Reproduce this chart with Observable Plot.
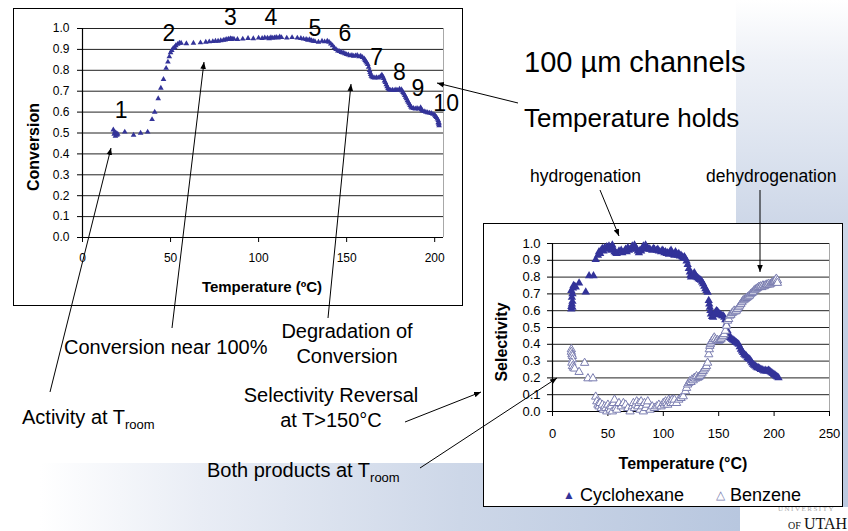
<!DOCTYPE html>
<html>
<head>
<meta charset="utf-8">
<script src="https://cdn.jsdelivr.net/npm/d3@7"></script>
<script src="https://cdn.jsdelivr.net/npm/@observablehq/plot@0.6"></script>
<style>
  html, body { margin: 0; padding: 0; background: #fff; }
  #slide { position: relative; width: 848px; height: 531px; overflow: hidden;
           font-family: Arial, "Liberation Sans", sans-serif; background: #fff; }
  .abs { position: absolute; }
  .box { position: absolute; background: #fff; border: 1.5px solid #000; box-sizing: border-box; }
  .chart { position: absolute; }
  .chart svg { overflow: visible; }
  #overlay { position: absolute; left: 0; top: 0; }
  .legend { position: absolute; font-size: 18px; line-height: 20px; white-space: nowrap; color: #000; }
</style>
</head>
<body>
<div id="slide">
  <div class="abs" style="left:736px;top:0;width:112px;height:507px;background:linear-gradient(to bottom,#ffffff 0px,#eef1f7 60px,#dce3ef 150px,#ccd6e7 230px,#c2cee2 350px,#bcc9df 507px);"></div>
  <div class="abs" style="left:0;top:463px;width:740px;height:68px;background:linear-gradient(to right,#ffffff 40px,#e9edf5 200px,#cdd7e8 460px,#b8c7df 740px);"></div>
  <div class="abs" style="left:778px;top:506px;font-family:'Liberation Serif',serif;font-size:7px;line-height:7px;color:#aaa;letter-spacing:1.5px;white-space:nowrap;">UNIVERSITY</div>
  <div class="abs" style="left:788px;top:517px;font-family:'Liberation Serif',serif;font-size:16px;line-height:14px;color:#111;white-space:nowrap;"><span style="font-size:10px">OF</span>&#8201;UTAH</div>

  <div class="box" style="left:13px;top:8px;width:450px;height:298px;"></div>
  <div id="c1" class="chart" style="left:13px;top:8px;"></div>

  <div class="box" style="left:483px;top:223px;width:360px;height:284px;"></div>
  <div id="c2" class="chart" style="left:483px;top:223px;"></div>

  <div class="legend" style="left:563px;top:485px;"><span style="color:#333399;font-size:12px;vertical-align:2px;">▲</span> Cyclohexane</div>
  <div class="legend" style="left:716px;top:485px;"><span style="color:#7a7db0;font-size:12px;vertical-align:2px;">△</span> Benzene</div>

  <svg id="overlay" width="848" height="531"></svg>
</div>
<script>
// ---------------- DATA ----------------
// Conversion vs temperature (°C), 100 µm channels
const conversion = [
  [17.5,0.515],[18,0.495],[18.3,0.505],[18.7,0.485],[19,0.5],[19.5,0.49],[20,0.495],
  [24,0.505],[29,0.49],[33,0.5],[37,0.505],
  [39.5,0.565],[41,0.6],[43,0.665],[44.5,0.715],[46,0.757],[47.5,0.81],
  [48.5,0.84],[49.3,0.865],[50,0.885],[50.7,0.895],[51.5,0.905],[52.3,0.91],[53,0.918],[54,0.925],[55,0.93],[56,0.93],
  [59,0.928],[63,0.93],[67,0.932],[70,0.935],[72,0.937],[74,0.938],[75.5,0.94],[77,0.94],[78.5,0.942],[80,0.944],
  [81,0.946],[82,0.948],[83,0.95],[84,0.952],[84.5,0.948],[85,0.95],[86,0.95],[88,0.948],[91,0.95],[94,0.953],
  [97,0.952],[100,0.955],[102,0.953],[103.5,0.956],[105,0.955],[106,0.952],[107,0.957],[108,0.954],[109,0.956],
  [110,0.958],[111,0.955],[112,0.96],[113,0.957],[116,0.955],[119,0.957],[122,0.955],[124,0.953],[125.5,0.95],
  [127,0.948],[128,0.945],[129,0.947],[130,0.942],[131,0.94],[132,0.938],[134,0.935],[136,0.94],[137.5,0.937],
  [139,0.94],[140,0.935],[141,0.927],[142,0.918],[143,0.908],[144,0.9],[145,0.893],[146,0.89],[147,0.886],
  [148,0.884],[149,0.88],[150,0.876],[151,0.874],[152,0.87],[153,0.872],[154,0.868],[155,0.87],[156,0.872],
  [157,0.866],[158,0.868],[159,0.862],[160,0.855],[160.5,0.848],[161,0.842],[161.5,0.835],[162,0.828],[162.5,0.815],
  [163,0.8],[163.3,0.79],[163.6,0.78],[164,0.772],[164.5,0.768],[165,0.765],[166,0.764],[167,0.766],[168,0.764],
  [169,0.768],[169.5,0.772],[170,0.778],[170.5,0.77],[171,0.762],[171.5,0.75],[172,0.742],[172.5,0.732],[173,0.722],
  [173.5,0.714],[174,0.708],[175,0.705],[176,0.706],[177,0.704],[178,0.707],[179,0.705],[180,0.71],[181,0.708],
  [181.5,0.702],[182,0.695],[182.5,0.688],[183,0.68],[183.5,0.672],[184,0.665],[184.5,0.655],[185,0.648],[185.5,0.64],
  [186,0.632],[186.5,0.625],[187,0.62],[188,0.618],[189,0.616],[190,0.618],[191,0.615],[192,0.622],[192.5,0.612],
  [193,0.606],[194,0.603],[195,0.6],[196,0.598],[197,0.596],[198,0.594],[199,0.59],[200,0.586],[200.5,0.58],
  [201,0.575],[201.5,0.568],[202,0.56],[202,0.55],[202.3,0.542],[202.5,0.535],[202.5,0.548]
];
// Temperature-hold labels placed on the conversion chart
const holdLabels = ["1","2","3","4","5","6","7","8","9","10"];
const holdTemps  = [22, 49, 84, 107, 132, 149, 167, 180, 190.5, 206.5];
const holdLevels = [0.605, 0.975, 1.05, 1.05, 1.0, 0.975, 0.86, 0.79, 0.71, 0.64];

// Selectivity vs temperature (°C)
const cyclohexane = [
  [17,0.61],[17,0.625],[17.5,0.64],[18,0.655],[17.5,0.68],[18,0.7],[17,0.72],[18.5,0.735],[19,0.75],[20,0.745],[21,0.74],[18,0.62],
  [24,0.765],[30,0.711],[33,0.808],[37,0.808],[39,0.904],
  [41,0.93],[42,0.95],[43,0.94],[44,0.96],[45,0.97],[46,0.955],[47,0.975],[48,0.965],[49,0.98],[50,0.97],[51,0.985],
  [52,0.975],[53,0.96],[54,0.99],[55,0.97],[56,0.95],[57,0.945],[58,0.94],[60,0.955],[62,0.96],[63,0.945],[65,0.955],
  [66,0.965],[67,0.95],[68,0.975],[69,0.96],[70,0.965],[72,0.985],[73,0.97],[74,0.99],[75,0.975],[76,0.965],[77,0.955],
  [78,0.945],[79,0.96],[80,0.955],[81,0.97],[82,0.985],[83,0.97],[84,0.99],[85,0.975],[86,0.965],[87,0.97],[88,0.965],
  [90,0.96],[91,0.97],[92,0.965],[94,0.96],[95,0.965],[96,0.955],[98,0.95],[99,0.96],[100,0.955],[101,0.945],[102,0.95],
  [103,0.94],[104,0.945],[105,0.935],[106,0.95],[107,0.96],[108,0.945],[109,0.935],[110,0.93],[111,0.95],[112,0.94],
  [113,0.93],[114,0.94],[115,0.925],[116,0.93],[117,0.92],[118,0.915],[119,0.92],[120,0.91],[121,0.895],[122,0.875],
  [123,0.85],[124,0.83],[124.5,0.81],[125,0.8],[126,0.805],[127,0.815],[128,0.825],[129,0.81],[130,0.8],[131,0.795],
  [132,0.79],[133,0.785],[134,0.78],[135,0.77],[136,0.76],[137,0.745],[138,0.73],[139,0.72],[140,0.71],[141,0.66],
  [141.5,0.64],[142,0.62],[142.5,0.6],[143,0.58],[144,0.565],[145,0.56],[146,0.575],[147,0.59],[148,0.6],[149,0.595],
  [150,0.585],[151,0.58],[152,0.575],[153,0.57],[154,0.57],[155,0.56],[156,0.545],[157,0.52],[158,0.48],[159,0.46],
  [160,0.44],[161,0.435],[162,0.43],[163,0.425],[164,0.42],[165,0.415],[166,0.41],[167,0.405],[168,0.4],[169,0.385],
  [170,0.37],[171,0.36],[172,0.35],[173,0.34],[174,0.335],[175,0.33],[176,0.32],[177,0.315],[178,0.31],[179,0.3],
  [180,0.29],[181,0.28],[182,0.275],[183,0.27],[184,0.265],[185,0.26],[186,0.26],[187,0.255],[188,0.25],[189,0.25],
  [190,0.245],[191,0.24],[192,0.245],[193,0.24],[194,0.24],[195,0.245],[196,0.24],[197,0.235],[198,0.23],[199,0.225],
  [200,0.22],[201,0.215],[202,0.21],[203,0.205],[204,0.2]
];
const benzene = [
  [17,0.37],[17,0.355],[17.5,0.34],[18,0.33],[18,0.31],[17.5,0.29],[18,0.27],[19,0.26],[20,0.255],
  [24,0.235],[29,0.289],[32,0.197],[36.5,0.197],[39,0.088],
  [40,0.06],[41,0.04],[42,0.03],[43,0.05],[44,0.02],[45,0.04],[46,0.01],[47,0.03],[48,0.02],[49,0.0],[50,0.04],
  [51,0.02],[52,0.01],[53,0.03],[54,0.0],[55,0.05],[56,0.07],[57,0.02],[58,0.01],[60,0.05],[62,0.03],[64,0.05],
  [66,0.04],[68,0.02],[70,0.0],[72,0.03],[73,0.05],[74,0.02],[75,0.04],[76,0.06],[77,0.03],[78,0.05],[79,0.01],
  [80,0.06],[81,0.03],[82,0.0],[83,0.05],[84,0.02],[85,0.04],[86,0.06],[88,0.01],[90,0.03],[92,0.02],[94,0.03],
  [96,0.04],[98,0.03],[100,0.05],[101,0.04],[102,0.06],[103,0.05],[104,0.04],[105,0.07],[106,0.06],[107,0.05],
  [108,0.07],[109,0.05],[110,0.07],[112,0.05],[114,0.07],[116,0.08],[118,0.09],[120,0.12],[121,0.14],[122,0.16],
  [123,0.17],[124,0.18],[125,0.175],[126,0.19],[127,0.185],[128,0.2],[129,0.195],[130,0.21],[131,0.2],[132,0.205],
  [133,0.21],[134,0.22],[135,0.23],[136,0.24],[137,0.25],[138,0.26],[139,0.27],[140,0.29],[141,0.34],[141.5,0.37],
  [142,0.39],[142.5,0.4],[143,0.41],[144,0.42],[145,0.43],[146,0.44],[147,0.43],[148,0.42],[149,0.425],[150,0.42],
  [151,0.425],[152,0.43],[153,0.44],[154,0.45],[155,0.46],[156,0.48],[157,0.51],[158,0.54],[159,0.55],[160,0.57],
  [161,0.575],[162,0.585],[163,0.59],[164,0.6],[165,0.595],[166,0.6],[167,0.61],[168,0.62],[169,0.63],[170,0.64],
  [171,0.65],[172,0.66],[173,0.665],[174,0.67],[175,0.675],[176,0.68],[177,0.685],[178,0.69],[179,0.7],[180,0.705],
  [181,0.71],[182,0.72],[183,0.725],[184,0.73],[185,0.735],[186,0.74],[187,0.74],[188,0.745],[189,0.74],[190,0.75],
  [191,0.745],[192,0.75],[193,0.755],[194,0.755],[195,0.76],[196,0.755],[197,0.76],[198,0.765],[199,0.77],[200,0.775],
  [201,0.78],[202,0.79],[203,0.78],[203,0.765]
];

// Axis ticks
const yTicks = [0,0.1,0.2,0.3,0.4,0.5,0.6,0.7,0.8,0.9,1.0];
const xTicksConversion = [0,50,100,150,200];
const xTicksSelectivity = [0,50,100,150,200,250];

// ---------------- CHARTS ----------------
const FONT = "Arial, 'Liberation Sans', sans-serif";
const NAVY = "#333399";
const LAVENDER = "#7a7db0";

const chart1 = Plot.plot({
  width: 450, height: 298,
  marginLeft: 69, marginRight: 20, marginTop: 20, marginBottom: 69,
  style: { fontFamily: FONT, fontSize: "12px", color: "#000", background: "transparent", overflow: "visible" },
  x: { domain: [0, 205] },
  y: { domain: [0, 1] },
  marks: [
    Plot.ruleY(yTicks.filter(d => d > 0), { stroke: "#222", strokeWidth: 1 }),
    Plot.ruleX([205], { stroke: "#a8a8a8", strokeWidth: 1 }),
    Plot.ruleX([0], { stroke: "#000", strokeWidth: 1.2 }),
    Plot.ruleY([0], { stroke: "#000", strokeWidth: 1.2 }),
    Plot.axisY({ ticks: yTicks, tickSize: 5, tickPadding: 8, tickFormat: d3.format(".1f"), label: null, fontSize: 12 }),
    Plot.axisX({ ticks: xTicksConversion, tickSize: 5, tickPadding: 11, tickFormat: d3.format("d"), label: null, fontSize: 12 }),
    Plot.dot(conversion, { x: d => d[0], y: d => d[1], symbol: "triangle", r: 2.1, fill: NAVY }),
    Plot.text(holdLabels, { x: (d, i) => holdTemps[i], y: (d, i) => holdLevels[i], text: d => d, fontSize: 23, fill: "#000" })
  ]
});
document.getElementById("c1").appendChild(chart1);

const chart2 = Plot.plot({
  width: 360, height: 284,
  marginLeft: 69, marginRight: 14, marginTop: 20, marginBottom: 96,
  style: { fontFamily: FONT, fontSize: "13px", color: "#000", background: "transparent", overflow: "visible" },
  x: { domain: [0, 250] },
  y: { domain: [0, 1] },
  marks: [
    Plot.ruleY(yTicks.filter(d => d > 0), { stroke: "#222", strokeWidth: 1 }),
    Plot.ruleX([250], { stroke: "#a8a8a8", strokeWidth: 1 }),
    Plot.ruleX([0], { stroke: "#000", strokeWidth: 1.2 }),
    Plot.ruleY([0], { stroke: "#000", strokeWidth: 1.2 }),
    Plot.axisY({ ticks: yTicks, tickSize: 5, tickPadding: 7, tickFormat: d3.format(".1f"), label: null, fontSize: 13 }),
    Plot.axisX({ ticks: xTicksSelectivity, tickSize: 5, tickPadding: 12, tickFormat: d3.format("d"), label: null, fontSize: 13 }),
    Plot.dot(cyclohexane, { x: d => d[0], y: d => d[1], symbol: "triangle", r: 3.1, fill: NAVY }),
    Plot.dot(benzene, { x: d => d[0], y: d => d[1], symbol: "triangle", r: 3.1, fill: "#fff", stroke: LAVENDER, strokeWidth: 1 })
  ]
});
document.getElementById("c2").appendChild(chart2);

// ---------------- ANNOTATIONS ----------------
const svg = d3.select("#overlay");
svg.append("defs").append("marker")
  .attr("id", "ah").attr("viewBox", "0 0 10 10").attr("refX", 10).attr("refY", 5)
  .attr("markerWidth", 7).attr("markerHeight", 7).attr("orient", "auto")
  .append("path").attr("d", "M0,1 L10,5 L0,9 Z").attr("fill", "#000");

const arrows = [
  [50, 392, 111, 148],
  [172, 328, 204, 62],
  [328, 318, 351, 84],
  [518, 103, 437, 83],
  [405, 422, 481, 392],
  [420, 468, 557, 378],
  [600, 190, 619, 236],
  [760, 190, 760, 272]
];
svg.selectAll("line.arrow").data(arrows).join("line").attr("class", "arrow")
  .attr("x1", d => d[0]).attr("y1", d => d[1]).attr("x2", d => d[2]).attr("y2", d => d[3])
  .attr("stroke", "#000").attr("stroke-width", 1).attr("marker-end", "url(#ah)");

function txt(x, y, s, size, opts = {}) {
  const t = svg.append("text").attr("x", x).attr("y", y)
    .attr("font-family", FONT).attr("font-size", size).attr("fill", "#000")
    .attr("text-anchor", opts.anchor || "start");
  if (opts.bold) t.attr("font-weight", "bold");
  if (opts.rotate) t.attr("transform", `rotate(-90 ${x} ${y})`);
  if (opts.sub) {
    t.append("tspan").text(s);
    t.append("tspan").attr("font-size", opts.subSize || 13).attr("dy", 5).text(opts.sub);
  } else {
    t.text(s);
  }
  return t;
}
// axis titles
txt(262, 292, "Temperature (ºC)", 15, { anchor: "middle", bold: true });
txt(39, 147, "Conversion", 16, { anchor: "middle", bold: true, rotate: true });
txt(683, 469, "Temperature (°C)", 16, { anchor: "middle", bold: true });
txt(507, 342, "Selectivity", 16, { anchor: "middle", bold: true, rotate: true });

// slide text
txt(524, 72, "100 µm channels", 29);
txt(524, 127, "Temperature holds", 26);
txt(530, 182, "hydrogenation", 17.5);
txt(706, 182, "dehydrogenation", 17.5);
txt(64, 354, "Conversion near 100%", 20);
txt(347, 338, "Degradation of", 20, { anchor: "middle" });
txt(347, 363, "Conversion", 20, { anchor: "middle" });
txt(331, 402, "Selectivity Reversal", 20, { anchor: "middle" });
txt(331, 427, "at T>150°C", 20, { anchor: "middle" });
txt(22, 424, "Activity at T", 20, { sub: "room" });
txt(207, 477, "Both products at T", 20, { sub: "room" });
</script>
</body>
</html>
